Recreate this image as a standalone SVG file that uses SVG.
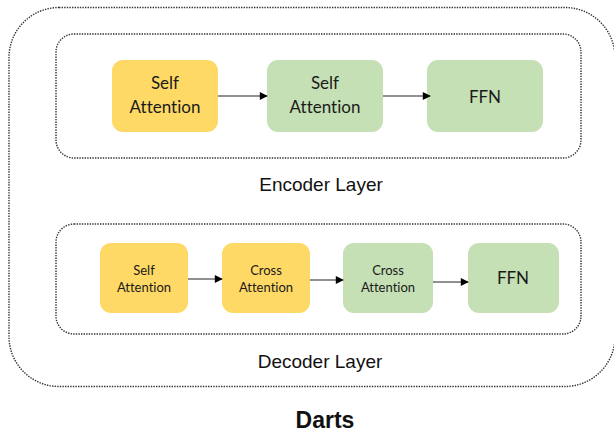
<svg xmlns="http://www.w3.org/2000/svg" width="614" height="433" viewBox="0 0 614 433">
<defs>
<style>
.frame{fill:none;stroke:#333;stroke-width:1.4;stroke-dasharray:1.4 1.2}
.y{fill:#FFD966}
.g{fill:#C5E0B4}
.t{font-family:Lato,"Noto Sans",sans-serif;fill:#1a1a1a;text-anchor:middle;font-variant-ligatures:none}
.big{font-size:17px}
.sm{font-size:13px}
.lbl{font-family:"Liberation Sans",Arial,sans-serif;font-size:19px;fill:#111;text-anchor:middle}
.edge{stroke:#6b6b6b;stroke-width:1.3;fill:none;marker-end:url(#ah)}
</style>
<marker id="ah" viewBox="0 0 10 10" refX="9" refY="5" markerWidth="10" markerHeight="8" markerUnits="userSpaceOnUse" orient="auto">
<path d="M0,0 L10,5 L0,10 z" fill="#000"/>
</marker>
</defs>
<rect width="614" height="433" fill="#fff"/>
<g id="darts">
<rect class="frame" x="9" y="7.5" width="606" height="379" rx="50" ry="50"/>
<text x="325" y="428" font-family="'Liberation Sans',Arial,sans-serif" font-size="23" font-weight="bold" fill="#111" text-anchor="middle">Darts</text>
</g>
<g id="encoder-layer">
<rect class="frame" x="56" y="34" width="525" height="124" rx="18" ry="18"/>
<text class="lbl" x="321" y="191">Encoder Layer</text>
</g>
<g id="decoder-layer">
<rect class="frame" x="56" y="224" width="525" height="110" rx="18" ry="18"/>
<text class="lbl" x="320" y="368">Decoder Layer</text>
</g>
<g id="enc-self-attn-1">
<rect class="y" x="112" y="60" width="106" height="72" rx="11"/>
<text class="t big" x="165" y="89">Self</text>
<text class="t big" x="165" y="113">Attention</text>
</g>
<g id="enc-self-attn-2">
<rect class="g" x="267" y="60" width="116" height="72" rx="11"/>
<text class="t big" x="325" y="89">Self</text>
<text class="t big" x="325" y="113">Attention</text>
</g>
<g id="enc-ffn">
<rect class="g" x="427" y="60" width="116" height="72" rx="11"/>
<text class="t big" x="485" y="103">FFN</text>
</g>
<g id="dec-self-attn">
<rect class="y" x="100" y="243" width="88" height="70" rx="11"/>
<text class="t sm" x="144" y="275">Self</text>
<text class="t sm" x="144" y="292">Attention</text>
</g>
<g id="dec-cross-attn-1">
<rect class="y" x="222" y="243" width="88" height="70" rx="11"/>
<text class="t sm" x="266" y="275">Cross</text>
<text class="t sm" x="266" y="292">Attention</text>
</g>
<g id="dec-cross-attn-2">
<rect class="g" x="343" y="243" width="90" height="70" rx="11"/>
<text class="t sm" x="388" y="275">Cross</text>
<text class="t sm" x="388" y="292">Attention</text>
</g>
<g id="dec-ffn">
<rect class="g" x="468" y="243" width="91" height="70" rx="11"/>
<text class="t big" x="513" y="284">FFN</text>
</g>
<g id="connectors">
<line class="edge" x1="218" y1="96" x2="267" y2="96"/>
<line class="edge" x1="383" y1="96" x2="430" y2="96"/>
<line class="edge" x1="188" y1="279" x2="222" y2="279"/>
<line class="edge" x1="310" y1="280" x2="343" y2="280"/>
<line class="edge" x1="433" y1="282" x2="468" y2="282"/>
</g>
</svg>
